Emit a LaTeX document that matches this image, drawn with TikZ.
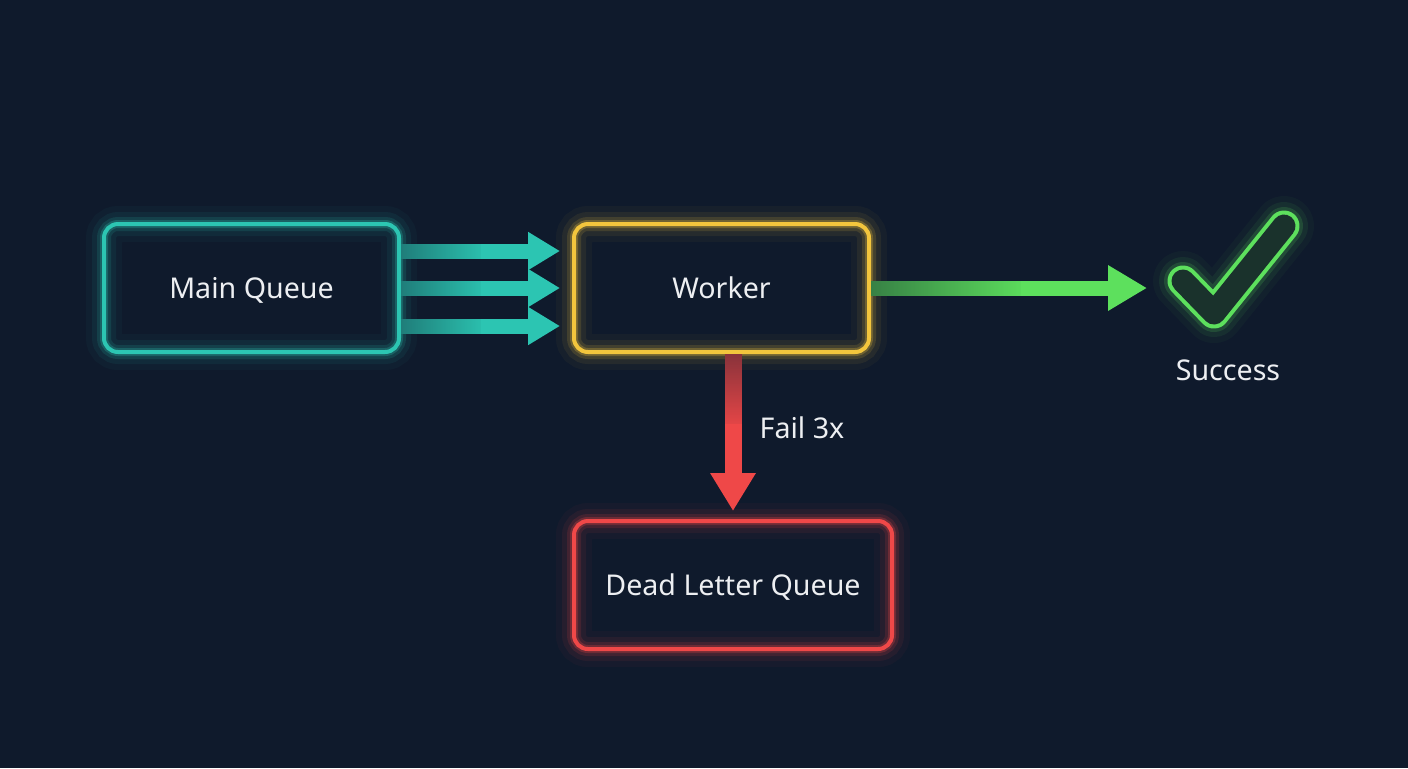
\documentclass[tikz,border=0pt]{standalone}
\usepackage{fontspec}
\setmainfont{Noto Sans}
\usetikzlibrary{arrows.meta,calc,fadings}
\definecolor{bg}{RGB}{15,26,44}
\definecolor{tealc}{RGB}{44,197,178}
\definecolor{yellowc}{RGB}{242,197,61}
\definecolor{redc}{RGB}{239,72,72}
\definecolor{greenc}{RGB}{93,224,93}
\definecolor{txt}{RGB}{237,239,242}
\definecolor{chkin}{RGB}{26,50,44}
\begin{document}
\begin{tikzpicture}[x=0.5pt,y=-0.5pt,
  lbl/.style={text=txt, font=\fontsize{14.3}{16}\selectfont, text height=10pt, text depth=0pt},
  glowbox/.style={draw=#1, line width=2pt, rounded corners=7pt,
    preaction={draw=#1, line width=18pt, draw opacity=0.04},
    preaction={draw=#1, line width=12pt, draw opacity=0.07},
    preaction={draw=#1, line width=7pt, draw opacity=0.14},
    preaction={draw=#1, line width=4pt, draw opacity=0.25}},
  tealarrow/.style={draw=tealc, line width=7.5pt, -{Triangle[length=16pt,width=18pt]}, shorten >=6pt},
  greenarrow/.style={draw=greenc, line width=7.5pt, -{Triangle[length=19.5pt,width=21.5pt]}},
  redarrow/.style={draw=redc, line width=8.5pt, -{Triangle[length=19pt,width=21.5pt]}, shorten >=4pt},
  dimmer/.style={draw=bg, draw opacity=#1, path fading=east},
]
\fill[bg] (0,0) rectangle (1408,768);
\useasboundingbox (0,0) rectangle (1408,768);

% boxes
\node[glowbox=tealc, minimum width=147.5pt, minimum height=64pt, lbl] (mq) at (251.5,288) {Main Queue};
\node[glowbox=yellowc, minimum width=147.5pt, minimum height=64pt, lbl] (w) at (721.5,288) {Worker};
\node[glowbox=redc, minimum width=159pt, minimum height=64pt, lbl] (dlq) at (733,585) {Dead Letter Queue};

% teal arrows
\foreach \dy in {-37,0,38}{
  \draw[tealarrow] ($(mq.east)+(0,\dy)$) -- ($(w.west)+(0,\dy)$);
  \draw[dimmer=0.45, line width=7.5pt] ($(mq.east)+(0,\dy)$) -- ++(80,0);
}

% green arrow
\coordinate (chk) at (1147,288);
\draw[greenarrow] (w.east) -- (chk);
\draw[dimmer=0.5, line width=7.5pt] (w.east) -- ++(150,0);

% red arrow
\draw[redarrow] (w.south -| dlq.north) -- (dlq.north);
\draw[draw=bg, draw opacity=0.5, path fading=south, line width=8.5pt] (w.south -| dlq.north) -- ++(0,70);
\node[lbl] (fail) at (802,428) {Fail 3x};

% check mark
\draw[greenc, line width=15.5pt, line cap=round, line join=round,
  preaction={draw=greenc, line width=30pt, draw opacity=0.04, line cap=round, line join=round},
  preaction={draw=greenc, line width=24pt, draw opacity=0.08, line cap=round, line join=round},
  preaction={draw=greenc, line width=19pt, draw opacity=0.16, line cap=round, line join=round}]
  (1183,281) -- (1214,313) -- (1284,226);
\draw[chkin, line width=11.5pt, line cap=round, line join=round]
  (1183,281) -- (1214,313) -- (1284,226);
\node[lbl] (succ) at (1228,370) {Success};
\end{tikzpicture}
\end{document}
